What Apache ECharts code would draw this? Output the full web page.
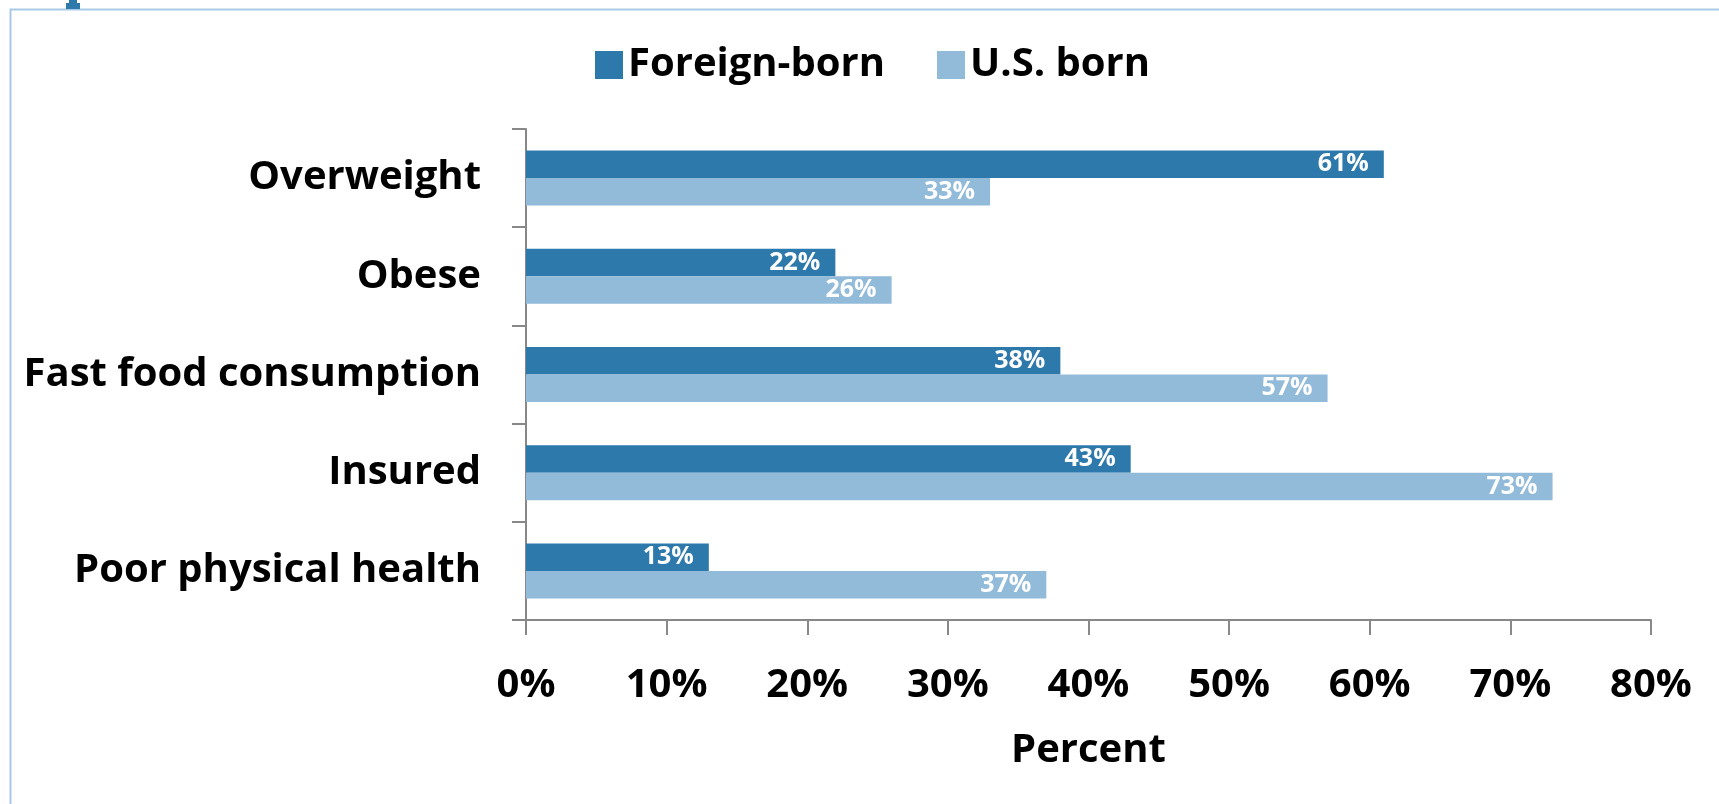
<!DOCTYPE html>
<html>
<head>
<meta charset="utf-8">
<script src="https://cdn.jsdelivr.net/npm/echarts@6/dist/echarts.min.js"></script>
<style>
html,body{margin:0;padding:0;background:#fff;}
#chart{width:1719px;height:804px;}
</style>
</head>
<body>
<div id="chart"></div>
<script>
const categories = ['Overweight', 'Obese', 'Fast food consumption', 'Insured', 'Poor physical health'];
const foreignBorn = [61, 22, 38, 43, 13];
const usBorn = [33, 26, 57, 73, 37];
const seriesNames = ['Foreign-born', 'U.S. born'];
const xTicks = { min: 0, max: 80, interval: 10 };

const FONT = "'Open Sans', 'Noto Sans', sans-serif";
const DARK = '#2E79AC';
const LIGHT = '#92BAD9';
const AXIS = '#888888';

const chart = echarts.init(document.getElementById('chart'), null, { renderer: 'canvas' });

const labelStyle = {
  show: true,
  position: 'insideRight',
  distance: 15,
  color: '#ffffff',
  fontFamily: FONT,
  fontWeight: 'bold',
  fontSize: 25,
  formatter: '{c}%'
};

chart.setOption({
  backgroundColor: '#ffffff',
  animation: false,
  graphic: [
    { type: 'rect', shape: { x: 10.5, y: 9.5, width: 2000, height: 2000 }, style: { fill: 'none', stroke: '#A7C9E5', lineWidth: 2 }, silent: true },
    { type: 'rect', shape: { x: 66, y: 3, width: 14, height: 6 }, style: { fill: DARK }, silent: true },
    { type: 'rect', shape: { x: 69, y: 0, width: 8, height: 4 }, style: { fill: DARK }, silent: true }
  ],
  legend: {
    data: seriesNames,
    left: 590,
    top: 40,
    icon: 'rect',
    itemWidth: 28,
    itemHeight: 28,
    itemGap: 52,
    textStyle: { fontFamily: FONT, fontWeight: 'bold', fontSize: 40, color: '#000', padding: [0, 0, 0, 0] }
  },
  grid: { left: 526, right: 68, top: 129, bottom: 184, containLabel: false },
  xAxis: {
    type: 'value',
    min: xTicks.min,
    max: xTicks.max,
    interval: xTicks.interval,
    name: 'Percent',
    nameLocation: 'middle',
    nameGap: 111,
    nameTextStyle: { fontFamily: FONT, fontWeight: 'bold', fontSize: 40, color: '#000' },
    axisLine: { show: true, lineStyle: { color: AXIS, width: 2 } },
    axisTick: { show: true, length: 15, lineStyle: { color: AXIS, width: 2 } },
    splitLine: { show: false },
    axisLabel: { margin: 46, fontFamily: FONT, fontWeight: 'bold', fontSize: 40, color: '#000', formatter: '{value}%' }
  },
  yAxis: {
    type: 'category',
    data: categories,
    inverse: true,
    axisLine: { show: true, lineStyle: { color: AXIS, width: 2 } },
    axisTick: { show: true, length: 14, lineStyle: { color: AXIS, width: 2 } },
    axisLabel: { margin: 45, fontFamily: FONT, fontWeight: 'bold', fontSize: 40, color: '#000' }
  },
  series: [
    {
      name: seriesNames[0],
      type: 'bar',
      data: foreignBorn,
      itemStyle: { color: DARK },
      barGap: '0%',
      barCategoryGap: '44%',
      label: labelStyle
    },
    {
      name: seriesNames[1],
      type: 'bar',
      data: usBorn,
      itemStyle: { color: LIGHT },
      barGap: '0%',
      barCategoryGap: '44%',
      label: labelStyle
    }
  ]
});
</script>
</body>
</html>
